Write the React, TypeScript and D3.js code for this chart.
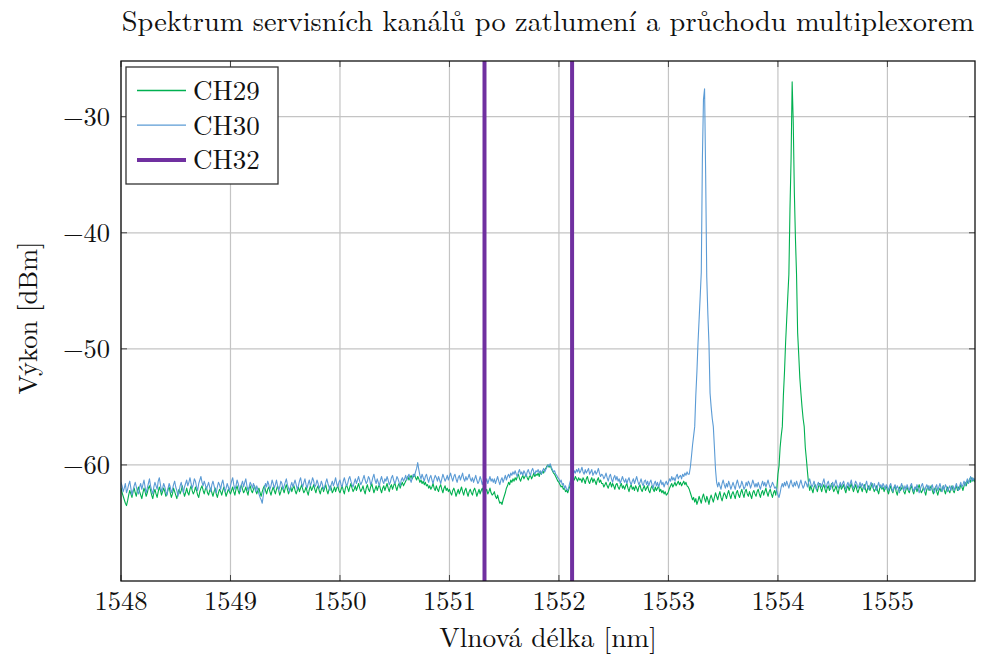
import * as d3 from 'd3'

// sampling grid of the spectrum analyser export (nm), 20 samples per row below
const wlStart = 1548
const wlStep = 0.01

const ch30 = [
  -61.5, -61.8, -62.3, -62.0, -61.6, -62.4, -62.1, -61.7, -61.4, -62.0, -62.6, -62.2, -61.8, -61.5, -61.9, -62.3, -62.5, -61.9, -61.6, -62.1,
  -61.7, -61.3, -61.9, -62.4, -62.0, -61.6, -61.2, -61.8, -62.2, -62.5, -61.9, -61.5, -61.8, -62.1, -61.4, -61.1, -61.7, -62.3, -62.0, -61.6,
  -61.9, -62.3, -62.6, -62.0, -61.6, -61.9, -62.4, -62.1, -61.7, -61.4, -61.9, -62.2, -62.7, -62.3, -61.8, -61.5, -62.0, -62.4, -61.9, -61.6,
  -61.3, -61.8, -61.5, -61.1, -61.6, -62.0, -61.7, -61.2, -61.4, -61.9, -62.2, -61.6, -61.3, -61.0, -61.5, -61.8, -61.4, -61.7, -62.1, -61.8,
  -61.5, -61.9, -62.3, -61.7, -61.4, -61.8, -62.2, -62.4, -61.9, -61.5, -61.7, -62.1, -61.6, -61.3, -61.8, -62.3, -62.0, -61.6, -61.9, -62.2,
  -61.8, -61.4, -61.1, -61.7, -62.1, -61.8, -61.3, -61.6, -62.0, -62.3, -61.7, -61.4, -61.9, -61.5, -61.2, -61.8, -62.2, -61.9, -61.5, -61.7,
  -62.0, -61.6, -61.9, -62.3, -61.8, -62.1, -62.5, -62.8, -63.0, -63.3, -62.6, -62.0, -61.6, -61.9, -61.4, -61.7, -62.1, -61.8, -61.3, -61.6,
  -62.0, -61.7, -61.3, -61.8, -62.2, -61.9, -61.4, -61.6, -62.1, -61.8, -61.5, -61.2, -61.7, -62.0, -62.3, -61.8, -61.5, -61.9, -61.6, -61.3,
  -61.7, -62.1, -61.8, -61.4, -61.1, -61.6, -61.9, -61.5, -61.2, -61.7, -62.0, -61.6, -61.3, -61.8, -61.5, -61.1, -61.4, -61.9, -61.7, -61.3,
  -61.6, -62.0, -61.8, -61.4, -61.7, -62.1, -61.9, -61.5, -61.2, -61.6, -61.9, -62.2, -61.7, -61.4, -61.8, -61.5, -61.1, -61.6, -61.9, -61.5,
  -61.3, -61.7, -61.9, -61.4, -61.1, -61.5, -61.8, -61.6, -61.2, -61.0, -61.4, -61.7, -61.9, -61.5, -61.2, -61.6, -61.3, -61.0, -61.4, -61.7,
  -61.5, -61.2, -60.9, -61.3, -61.6, -61.4, -61.0, -61.2, -61.7, -61.5, -61.1, -60.8, -61.3, -61.6, -61.2, -61.5, -61.8, -61.3, -61.0, -61.4,
  -61.6, -61.2, -61.4, -61.0, -61.3, -61.7, -61.5, -61.1, -60.9, -61.3, -61.6, -61.4, -61.0, -61.2, -61.5, -61.8, -61.3, -61.1, -61.4, -61.2,
  -60.9, -61.3, -61.0, -60.8, -61.2, -61.5, -61.1, -60.8, -61.0, -60.6, -60.3, -59.8, -60.4, -60.9, -61.2, -60.8, -61.1, -61.4, -61.0, -60.8,
  -61.2, -61.5, -61.1, -60.9, -61.3, -61.6, -61.2, -60.9, -61.1, -61.4, -61.0, -61.3, -61.6, -61.2, -60.8, -61.1, -61.4, -61.2, -60.9, -61.3,
  -61.0, -60.7, -61.1, -61.4, -61.0, -60.8, -61.2, -61.5, -61.1, -60.9, -61.3, -61.0, -60.7, -61.2, -61.4, -61.0, -61.3, -61.1, -60.8, -61.2,
  -61.4, -61.1, -61.5, -61.2, -60.9, -61.3, -61.6, -61.4, -61.0, -61.3, -61.7, -61.4, -61.1, -61.5, -61.2, -61.6, -61.3, -61.0, -61.4, -61.2,
  -61.5, -61.2, -61.6, -61.3, -61.0, -61.4, -61.7, -61.3, -61.1, -61.5, -61.2, -60.9, -61.3, -61.0, -60.8, -61.1, -60.7, -60.9, -60.6, -60.8,
  -60.5, -60.8, -61.0, -60.6, -60.4, -60.8, -60.6, -60.9, -60.5, -60.7, -61.0, -60.6, -60.4, -60.7, -60.9, -60.5, -60.3, -60.6, -60.8, -60.5,
  -60.6, -60.4, -60.7, -60.5, -60.8, -60.5, -60.3, -60.6, -60.4, -60.2, -60.0, -60.1, -59.9, -60.2, -60.4, -60.6, -60.5, -60.8, -60.9, -61.1,
  -61.2, -61.5, -61.3, -61.7, -61.6, -62.0, -61.8, -62.1, -62.2, -61.9, -61.5, -61.2, -60.8, -60.9, -60.5, -60.7, -60.4, -60.6, -60.3, -60.7,
  -60.5, -60.2, -60.6, -60.8, -60.4, -60.7, -60.5, -60.3, -60.8, -60.6, -60.4, -60.9, -60.7, -60.5, -60.8, -60.6, -60.3, -60.7, -61.0, -60.8,
  -60.9, -61.2, -61.0, -60.7, -61.1, -61.4, -61.0, -60.8, -61.2, -61.5, -61.1, -60.9, -61.3, -61.0, -61.4, -61.2, -61.6, -61.3, -61.0, -61.3,
  -61.5, -61.2, -61.6, -61.3, -61.1, -61.5, -61.7, -61.4, -61.2, -61.6, -61.3, -61.0, -61.4, -61.7, -61.5, -61.2, -61.6, -61.8, -61.4, -61.3,
  -61.7, -61.4, -61.8, -61.5, -61.3, -61.7, -62.0, -61.6, -61.4, -61.8, -61.5, -61.9, -61.6, -61.3, -61.7, -61.5, -61.9, -61.6, -61.4, -61.7,
  -61.5, -61.2, -61.4, -61.0, -61.3, -61.1, -61.4, -61.0, -60.8, -61.2, -61.0, -60.9, -61.2, -60.8, -61.0, -60.7, -60.9, -60.6, -60.8, -60.8,
  -60.2, -59.3, -58.3, -57.5, -56.7, -54.0, -52.0, -49.5, -47.5, -45.5, -43.4, -33.7, -28.5, -27.6, -35.0, -43.8, -47.0, -49.5, -53.8, -55.0,
  -56.0, -56.7, -58.5, -60.4, -61.5, -61.9, -61.5, -61.8, -62.1, -61.6, -61.3, -61.7, -62.0, -61.6, -61.9, -61.4, -61.7, -62.1, -61.8, -61.5,
  -61.8, -62.1, -61.6, -61.3, -61.7, -62.0, -61.8, -61.4, -61.7, -62.1, -61.9, -61.5, -61.8, -61.4, -61.6, -62.0, -61.7, -61.3, -61.6, -61.9,
  -61.6, -61.9, -61.5, -61.8, -62.1, -61.7, -61.4, -61.8, -61.5, -61.9, -61.6, -61.3, -61.7, -62.0, -61.8, -61.5, -61.7, -62.0, -61.9, -62.2,
  -62.6, -62.8, -62.4, -61.9, -61.6, -61.9, -61.5, -61.8, -61.4, -61.7, -62.0, -61.6, -61.3, -61.7, -61.9, -61.5, -61.8, -61.4, -61.7, -62.0,
  -61.6, -61.3, -61.7, -62.0, -61.8, -61.4, -61.6, -61.9, -61.5, -61.2, -61.6, -61.9, -61.7, -61.4, -61.8, -62.1, -61.7, -61.5, -61.8, -61.6,
  -61.9, -61.5, -61.2, -61.7, -62.0, -61.6, -61.4, -61.8, -62.1, -61.7, -61.5, -61.9, -61.6, -61.3, -61.7, -62.0, -61.8, -61.5, -61.9, -61.6,
  -61.4, -61.8, -62.1, -61.7, -61.5, -61.9, -61.6, -61.3, -61.8, -62.0, -61.7, -61.4, -61.6, -62.0, -61.8, -61.5, -61.9, -61.6, -61.8, -62.1,
  -61.7, -61.4, -61.9, -62.1, -61.8, -61.5, -61.7, -62.0, -61.6, -61.9, -62.2, -61.8, -61.5, -61.9, -61.7, -62.0, -61.6, -61.8, -62.1, -61.7,
  -61.9, -62.2, -61.8, -61.6, -62.0, -62.3, -61.9, -61.7, -62.1, -61.8, -62.0, -62.4, -61.9, -61.6, -62.0, -62.2, -61.8, -62.1, -61.7, -62.0,
  -62.2, -61.8, -61.6, -62.0, -62.3, -61.9, -62.1, -61.7, -62.0, -62.4, -62.1, -61.8, -61.6, -62.0, -62.3, -61.9, -61.7, -62.1, -61.8, -62.2,
  -62.0, -61.7, -62.1, -62.4, -61.9, -61.7, -62.2, -61.9, -61.6, -62.0, -62.3, -61.8, -62.1, -61.7, -61.9, -62.3, -62.0, -61.8, -62.2, -61.9,
  -61.8, -62.2, -61.9, -61.6, -62.0, -62.2, -61.8, -61.5, -61.9, -61.7, -61.4, -61.8, -61.5, -61.2, -61.6, -61.3, -61.0, -61.4, -61.1, -61.3,
  -61.2,
]

const ch29 = [
  -62.0, -62.4, -62.7, -63.0, -63.3, -63.5, -63.1, -62.6, -62.2, -62.5, -62.8, -62.3, -62.0, -62.4, -62.7, -62.2, -61.9, -62.3, -62.6, -62.9,
  -62.4, -62.0, -62.3, -62.7, -62.4, -62.0, -61.8, -62.2, -62.6, -62.9, -62.4, -62.1, -62.5, -62.8, -62.3, -61.9, -62.2, -62.6, -62.3, -62.0,
  -62.3, -62.7, -62.5, -62.1, -61.9, -62.4, -62.8, -62.5, -62.0, -62.3, -62.6, -62.9, -62.4, -62.1, -62.5, -62.2, -61.8, -62.3, -62.7, -62.4,
  -62.0, -62.4, -62.6, -62.1, -61.8, -62.2, -62.5, -62.3, -61.9, -62.2, -62.6, -62.8, -62.3, -62.0, -61.8, -62.2, -62.5, -62.1, -61.9, -62.4,
  -62.6, -62.2, -62.0, -62.4, -62.7, -62.3, -62.0, -62.5, -62.8, -62.4, -62.1, -62.3, -62.6, -62.2, -61.9, -62.3, -62.7, -62.4, -62.1, -62.3,
  -62.5, -62.2, -61.9, -62.3, -62.6, -62.1, -61.8, -62.2, -62.5, -62.0, -61.7, -62.1, -62.4, -62.2, -61.9, -62.3, -62.6, -62.0, -61.8, -62.2,
  -62.4, -62.1, -61.8, -62.2, -62.5, -62.2, -62.0, -62.4, -62.7, -62.3, -62.0, -61.8, -62.2, -62.5, -62.1, -61.9, -62.3, -62.6, -62.2, -61.9,
  -62.2, -62.5, -62.1, -61.8, -62.2, -62.6, -62.3, -61.9, -62.1, -62.4, -62.0, -61.7, -62.1, -62.5, -62.2, -61.9, -62.3, -62.0, -61.8, -62.2,
  -62.5, -62.2, -61.9, -62.3, -62.0, -61.7, -62.1, -62.4, -62.2, -61.9, -62.3, -62.6, -62.1, -61.8, -62.2, -62.0, -61.7, -62.1, -62.4, -62.0,
  -61.8, -62.2, -62.5, -62.1, -61.9, -62.3, -62.0, -61.7, -62.2, -62.5, -62.1, -61.8, -62.0, -62.4, -62.2, -61.9, -62.3, -62.0, -61.8, -62.2,
  -62.4, -62.1, -61.8, -62.2, -62.5, -62.0, -61.7, -62.0, -62.3, -61.9, -61.6, -62.0, -62.3, -62.1, -61.8, -62.2, -61.9, -61.6, -62.0, -62.3,
  -62.1, -61.8, -62.2, -62.5, -62.0, -61.7, -62.1, -62.3, -61.9, -61.6, -62.0, -62.4, -62.1, -61.8, -62.2, -61.9, -61.7, -62.1, -62.4, -62.0,
  -61.8, -62.2, -61.9, -61.6, -62.0, -62.3, -61.9, -61.7, -62.1, -61.8, -61.5, -61.9, -62.2, -61.8, -61.6, -62.0, -61.7, -61.5, -61.8, -61.6,
  -61.4, -61.2, -61.0, -61.3, -61.1, -60.9, -61.2, -61.0, -60.8, -61.1, -61.3, -61.0, -61.2, -61.5, -61.3, -61.6, -61.4, -61.7, -61.5, -61.8,
  -61.7, -62.0, -61.8, -62.1, -61.9, -61.6, -62.0, -62.2, -61.8, -62.1, -62.3, -61.9, -61.7, -62.1, -62.4, -62.0, -61.8, -62.2, -62.0, -62.3,
  -62.1, -62.4, -62.6, -62.2, -62.0, -62.3, -62.7, -62.4, -62.1, -62.5, -62.2, -61.9, -62.3, -62.6, -62.2, -62.0, -62.4, -62.7, -62.3, -62.1,
  -62.4, -62.6, -62.2, -62.0, -62.3, -62.7, -62.4, -62.1, -62.5, -62.2, -62.0, -62.4, -62.7, -62.3, -62.1, -62.5, -62.3, -62.0, -62.4, -62.6,
  -62.5, -62.3, -62.7, -62.9, -62.6, -63.0, -63.3, -63.2, -63.4, -63.0, -62.7, -62.4, -62.0, -61.8, -61.5, -61.7, -61.3, -61.5, -61.2, -61.4,
  -61.1, -61.3, -61.0, -60.8, -61.2, -61.4, -61.1, -60.9, -61.2, -61.0, -60.8, -61.1, -61.3, -61.0, -60.9, -61.2, -61.0, -60.7, -61.0, -60.8,
  -60.9, -60.7, -61.0, -60.6, -60.8, -60.5, -60.7, -60.4, -60.3, -60.1, -60.0, -60.2, -60.0, -60.3, -60.5, -60.7, -60.8, -61.0, -61.2, -61.4,
  -61.5, -61.7, -61.9, -61.8, -62.1, -62.0, -62.3, -62.2, -62.4, -62.1, -61.8, -61.5, -61.3, -61.1, -61.3, -61.0, -61.2, -61.4, -61.1, -61.3,
  -61.2, -61.5, -61.1, -61.3, -61.6, -61.2, -61.0, -61.4, -61.6, -61.3, -61.1, -61.5, -61.2, -61.4, -61.7, -61.3, -61.1, -61.5, -61.3, -61.6,
  -61.6, -61.9, -61.7, -61.5, -61.8, -62.0, -61.7, -61.5, -61.9, -61.6, -61.8, -62.1, -61.7, -61.6, -61.9, -62.1, -61.8, -61.6, -62.0, -61.8,
  -62.1, -61.8, -61.6, -62.0, -62.3, -61.9, -61.7, -62.1, -61.9, -62.2, -61.8, -62.0, -62.3, -61.9, -61.7, -62.1, -62.3, -62.0, -61.8, -62.2,
  -62.0, -61.8, -62.2, -62.4, -62.0, -61.8, -62.1, -62.3, -61.9, -62.2, -62.0, -61.8, -62.3, -62.1, -62.4, -62.2, -62.5, -62.3, -62.6, -62.5,
  -62.3, -62.0, -61.8, -61.6, -61.9, -61.7, -61.5, -61.8, -61.6, -61.4, -61.7, -61.5, -61.8, -61.6, -61.4, -61.7, -61.5, -61.8, -61.9, -62.1,
  -62.4, -62.7, -63.0, -62.8, -63.2, -62.9, -63.4, -63.1, -62.7, -63.0, -63.3, -62.8, -62.5, -62.9, -63.2, -62.7, -63.0, -63.4, -62.9, -62.6,
  -62.9, -63.2, -62.8, -62.4, -62.7, -63.0, -62.6, -62.3, -62.8, -63.1, -62.7, -62.4, -62.6, -62.9, -62.5, -62.2, -62.6, -62.9, -62.5, -62.3,
  -62.6, -62.9, -62.4, -62.2, -62.6, -62.8, -62.4, -62.1, -62.5, -62.8, -62.3, -62.1, -62.5, -62.7, -62.3, -62.6, -62.9, -62.4, -62.2, -62.5,
  -62.7, -62.3, -62.1, -62.5, -62.8, -62.4, -62.2, -62.6, -62.3, -62.0, -62.4, -62.7, -62.3, -62.1, -62.5, -62.8, -62.4, -62.2, -62.6, -62.0,
  -60.8, -60.1, -58.5, -57.5, -56.7, -54.0, -52.0, -49.5, -47.5, -45.5, -43.6, -38.0, -33.7, -27.0, -30.5, -36.5, -40.5, -43.6, -48.6, -50.5,
  -52.5, -53.8, -55.0, -56.0, -56.7, -58.5, -59.5, -60.6, -61.6, -62.2, -61.8, -62.1, -62.4, -61.9, -61.7, -62.0, -62.3, -61.9, -61.6, -62.0,
  -62.3, -61.9, -61.7, -62.1, -62.4, -62.0, -61.8, -62.2, -61.9, -61.6, -62.0, -62.3, -62.1, -61.8, -62.2, -62.5, -62.0, -61.7, -62.1, -61.9,
  -61.7, -62.1, -62.4, -62.0, -61.8, -62.2, -61.9, -61.6, -62.0, -62.3, -62.0, -61.7, -62.1, -62.4, -62.1, -61.8, -62.0, -62.3, -61.9, -61.7,
  -62.1, -62.4, -62.0, -61.8, -62.2, -61.9, -61.6, -62.0, -62.3, -62.1, -61.8, -62.2, -62.5, -62.0, -61.8, -62.1, -61.9, -62.3, -62.0, -61.8,
  -62.2, -62.5, -62.1, -61.8, -62.2, -62.4, -62.0, -61.8, -62.3, -62.6, -62.1, -61.9, -62.2, -62.0, -61.8, -62.3, -62.5, -62.1, -61.9, -62.2,
  -62.4, -62.0, -61.8, -62.2, -62.5, -62.1, -61.9, -62.3, -62.0, -61.7, -62.1, -62.4, -62.2, -61.9, -62.3, -62.6, -62.1, -61.8, -62.2, -62.0,
  -61.8, -62.2, -62.5, -62.1, -61.9, -62.3, -62.6, -62.2, -62.0, -62.3, -62.1, -61.8, -62.2, -62.5, -62.1, -61.9, -62.2, -62.4, -62.0, -61.8,
  -62.2, -62.4, -62.0, -61.8, -62.2, -61.9, -62.1, -61.7, -61.9, -62.2, -61.8, -61.5, -61.8, -61.4, -61.6, -61.2, -61.5, -61.1, -61.4, -61.2,
  -61.5,
]

// CH32 band edges (nm)
const ch32Edges = [1551.32, 1552.12]

const xTicks = [1548, 1549, 1550, 1551, 1552, 1553, 1554, 1555]
const yTicks = [-30, -40, -50, -60]

const series = [
  { name: 'CH29', values: ch29, color: '#00b050' },
  { name: 'CH30', values: ch30, color: '#5b9bd5' },
]

const txt = { fontFamily: "'Latin Modern Roman'" }

export default function App() {
  const width = 982
  const height = 661
  const margin = { left: 121, right: 7, top: 61, bottom: 80 }
  const x = d3.scaleLinear().domain([1548, 1555.8]).range([margin.left, width - margin.right])
  const y = d3.scaleLinear().domain([-70, -25.2]).range([height - margin.bottom, margin.top])

  const line = d3.line<number>()
    .x((_d, i) => x(wlStart + i * wlStep))
    .y(d => y(d))

  const [x0, x1] = x.range()
  const [y0, y1] = y.range()
  const tick = 6

  return (
    <div style={{ position: 'absolute', left: 0, top: 0 }}>
      <svg width={width} height={height} style={{ display: 'block', background: '#fff' }}>
        <defs>
          <clipPath id="plot">
            <rect x={x0} y={y1} width={x1 - x0} height={y0 - y1} />
          </clipPath>
        </defs>

        {/* grid */}
        {xTicks.map(t => (
          <line key={'gx' + t} x1={x(t)} x2={x(t)} y1={y1} y2={y0} stroke="#c4c4c4" strokeWidth={1.2} />
        ))}
        {yTicks.map(t => (
          <line key={'gy' + t} x1={x0} x2={x1} y1={y(t)} y2={y(t)} stroke="#c4c4c4" strokeWidth={1.2} />
        ))}

        {/* ticks, inside on every side */}
        {xTicks.map(t => (
          <g key={'tx' + t} stroke="#444" strokeWidth={1}>
            <line x1={x(t)} x2={x(t)} y1={y0} y2={y0 - tick} />
            <line x1={x(t)} x2={x(t)} y1={y1} y2={y1 + tick} />
          </g>
        ))}
        {yTicks.map(t => (
          <g key={'ty' + t} stroke="#444" strokeWidth={1}>
            <line x1={x0} x2={x0 + tick} y1={y(t)} y2={y(t)} />
            <line x1={x1} x2={x1 - tick} y1={y(t)} y2={y(t)} />
          </g>
        ))}

        <g clipPath="url(#plot)">
          {series.map(s => (
            <path key={s.name} d={line(s.values) || ''} fill="none" stroke={s.color}
              strokeWidth={1.1} strokeLinejoin="round" />
          ))}
          {ch32Edges.map(w => (
            <line key={'ch32' + w} x1={x(w)} x2={x(w)} y1={y0} y2={y1} stroke="#7030a0" strokeWidth={4} />
          ))}
        </g>

        <rect x={x0} y={y1} width={x1 - x0} height={y0 - y1} fill="none" stroke="#111" strokeWidth={1.3} />

        {/* tick labels */}
        {xTicks.map(t => (
          <text key={'lx' + t} x={x(t)} y={610} textAnchor="middle" style={txt} fontSize={26.5} fill="#111">
            {t}
          </text>
        ))}
        {yTicks.map(t => (
          <text key={'ly' + t} x={110} y={y(t) + 9} textAnchor="end" style={txt} fontSize={26.5} fill="#111">
            {'\u2212' + Math.abs(t)}
          </text>
        ))}

        {/* titles */}
        <text x={548} y={31} textAnchor="middle" style={txt} fontSize={28.4} fill="#111">
          Spektrum servisních kanálů po zatlumení a průchodu multiplexorem
        </text>
        <text x={548} y={647} textAnchor="middle" style={txt} fontSize={27.4} fill="#111">
          Vlnová délka [nm]
        </text>
        <text transform={`translate(37,318) rotate(-90)`} textAnchor="middle" style={txt} fontSize={26.5} fill="#111">
          Výkon [dBm]
        </text>

        {/* legend */}
        <g>
          <rect x={126} y={67} width={152} height={117} fill="#fff" stroke="#333" strokeWidth={1.3} />
          {[
            { name: 'CH29', color: '#00b050', w: 1.3 },
            { name: 'CH30', color: '#5b9bd5', w: 1.3 },
            { name: 'CH32', color: '#7030a0', w: 4 },
          ].map((d, i) => (
            <g key={d.name} transform={`translate(0,${90.5 + i * 34.7})`}>
              <line x1={137} x2={186} y1={0} y2={0} stroke={d.color} strokeWidth={d.w} />
              <text x={193} y={9.5} style={txt} fontSize={27} fill="#111">{d.name}</text>
            </g>
          ))}
        </g>
      </svg>
    </div>
  )
}
